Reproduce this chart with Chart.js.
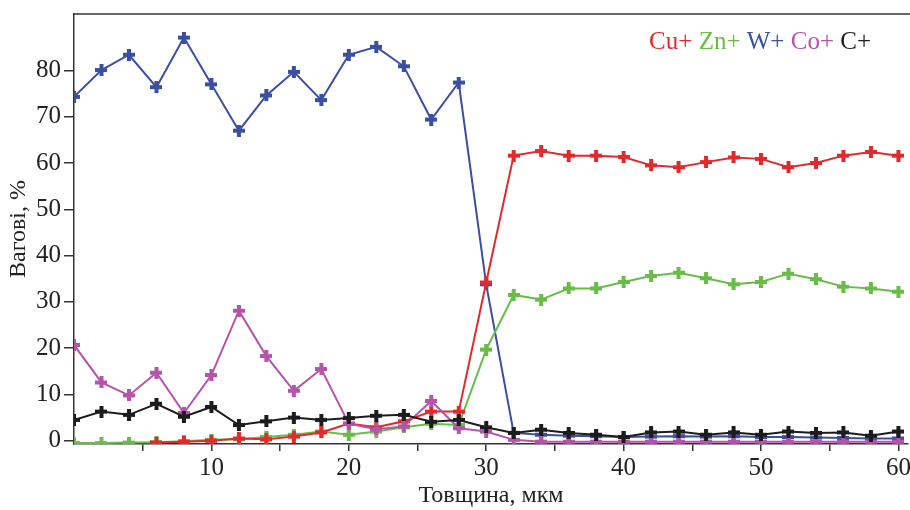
<!DOCTYPE html>
<html>
<head>
<meta charset="utf-8">
<script src="https://cdn.jsdelivr.net/npm/chart.js@4.4.1/dist/chart.umd.min.js"></script>
<style>
	html, body { margin: 0; padding: 0; background: #fff; }
	#wrap { width: 910px; height: 510px; }
</style>
</head>
<body>
<div id="wrap"><canvas id="c" width="910" height="510"></canvas></div>
<script>
// depth, um
const depth = [0, 2, 4, 6, 8, 10, 12, 14, 16, 18, 20, 22, 24, 26, 28, 30, 32, 34, 36, 38, 40, 42, 44, 46, 48, 50, 52, 54, 56, 58, 60];

// weight %
const cu = [null, null, null, -0.4, -0.2, 0.0, 0.5, 0.3, 0.9, 1.8, 3.7, 2.9, 4.2, 6.3, 6.3, 34.2, 61.6, 62.6, 61.6, 61.6, 61.3, 59.5, 59.1, 60.2, 61.2, 60.9, 59.1, 60.0, 61.6, 62.4, 61.6];
const zn = [-0.5, -0.5, -0.4, -0.3, -0.1, 0.2, 0.3, 0.8, 1.3, 2.0, 1.3, 2.0, 2.9, 3.7, 3.4, 19.7, 31.5, 30.5, 32.9, 32.9, 34.3, 35.6, 36.3, 35.1, 33.8, 34.3, 36.1, 34.9, 33.3, 32.9, 32.2];
const w  = [74.3, 80.1, 83.4, 76.4, 87.1, 77.0, 67.0, 74.6, 79.7, 73.6, 83.4, 85.1, 80.9, 69.4, 77.4, 33.8, 1.7, 1.3, 1.1, 1.0, 0.8, 0.9, 1.0, 0.9, 1.0, 0.8, 0.8, 0.7, 0.6, 0.5, 0.5];
const co = [20.7, 12.6, 9.8, 14.7, 6.0, 14.2, 28.1, 18.3, 10.8, 15.5, 3.7, 2.5, 3.1, 8.6, 2.7, 2.0, 0.2, -0.2, -0.2, -0.2, -0.2, -0.2, -0.2, -0.2, -0.2, -0.2, -0.2, -0.2, -0.2, -0.2, -0.2];
const c  = [4.5, 6.3, 5.6, 8.0, 5.2, 7.3, 3.4, 4.2, 5.0, 4.5, 4.9, 5.4, 5.6, 4.1, 4.5, 2.9, 1.7, 2.4, 1.7, 1.3, 0.8, 1.8, 2.0, 1.3, 1.8, 1.3, 2.0, 1.7, 1.8, 1.1, 2.0];

const labels = ['Cu+', 'Zn+', 'W+', 'Co+', 'C+'];
const colors = ['#e3292b', '#68bd48', '#3a4ea2', '#b554aa', '#1c1c1c'];
const series = [cu, zn, w, co, c];

const xTicks = [5, 10, 15, 20, 25, 30, 35, 40, 45, 50, 55, 60];
const yTicks = [0, 10, 20, 30, 40, 50, 60, 70, 80];

const FONT = '"Liberation Serif", "Times New Roman", serif';

function plusMarker(color) {
	let cv = document.createElement('canvas');
	cv.width = 12;
	cv.height = 12;
	let g = cv.getContext('2d');
	g.fillStyle = color;
	g.fillRect(4, 0, 4, 12);
	g.fillRect(0, 4, 12, 4);
	return cv;
}

// draw order: black on top, then purple, red, green, blue
const drawOrder = [2, 3, 4, 1, 0];

let datasets = series.map((s, i) => ({
	label: labels[i],
	data: depth.map((d, k) => ({x: d, y: s[k]})),
	borderColor: colors[i],
	backgroundColor: colors[i],
	borderWidth: 2,
	pointStyle: plusMarker(colors[i]),
	pointRadius: 6,
	order: drawOrder[i],
	spanGaps: false,
}));

const frameAndLegend = {
	id: 'frameAndLegend',
	afterDraw(chart) {
		let ctx = chart.ctx;
		let a = chart.chartArea;
		ctx.save();
		ctx.strokeStyle = '#333';
		ctx.lineWidth = 1.5;
		ctx.beginPath();
		ctx.moveTo(a.left, a.top);
		ctx.lineTo(910, a.top);
		ctx.stroke();

		ctx.font = '25px ' + FONT;
		ctx.textBaseline = 'alphabetic';
		let space = ctx.measureText(' ').width;
		let total = 0;
		labels.forEach(l => total += ctx.measureText(l).width);
		total += space * (labels.length - 1);
		let x = 871 - total;
		labels.forEach((l, i) => {
			ctx.fillStyle = colors[i];
			ctx.fillText(l, x, 49);
			x += ctx.measureText(l).width + space;
		});
		ctx.restore();
	}
};

new Chart(document.getElementById('c'), {
	type: 'line',
	data: {datasets: datasets},
	plugins: [frameAndLegend],
	options: {
		responsive: false,
		animation: false,
		layout: {autoPadding: false, padding: {top: 14, right: 2, left: 0, bottom: 0}},
		plugins: {
			legend: {display: false},
			tooltip: {enabled: false},
		},
		scales: {
			x: {
				type: 'linear',
				min: 0,
				max: 60.7,
				afterBuildTicks: s => { s.ticks = xTicks.map(v => ({value: v})); },
				afterFit: s => { s.height = 66; s.paddingLeft = 0; s.paddingRight = 0; },
				ticks: {
					autoSkip: false,
					maxRotation: 0,
					padding: 2,
					color: '#222',
					font: {family: FONT, size: 25},
					callback: v => (v % 10 === 0) ? String(v) : '',
				},
				grid: {display: true, drawOnChartArea: false, tickLength: 7, color: '#333', lineWidth: 1.5},
				border: {display: true, color: '#333', width: 1.5},
				title: {display: true, text: 'Товщина, мкм', color: '#222', font: {family: FONT, size: 24}, padding: {top: 1, bottom: 0}},
			},
			y: {
				type: 'linear',
				min: -0.7,
				max: 92.2,
				afterBuildTicks: s => { s.ticks = yTicks.map(v => ({value: v})); },
				afterFit: s => { s.width = 74; s.paddingTop = 0; s.paddingBottom = 0; },
				ticks: {
					padding: 3,
					color: '#222',
					font: {family: FONT, size: 25},
				},
				grid: {display: true, drawOnChartArea: false, tickLength: 10, color: '#333', lineWidth: 1.5},
				border: {display: true, color: '#333', width: 1.5},
				title: {display: true, text: 'Вагові, %', color: '#222', font: {family: FONT, size: 24}, padding: {top: 4, bottom: 0}},
			},
		},
	},
});
</script>
</body>
</html>
